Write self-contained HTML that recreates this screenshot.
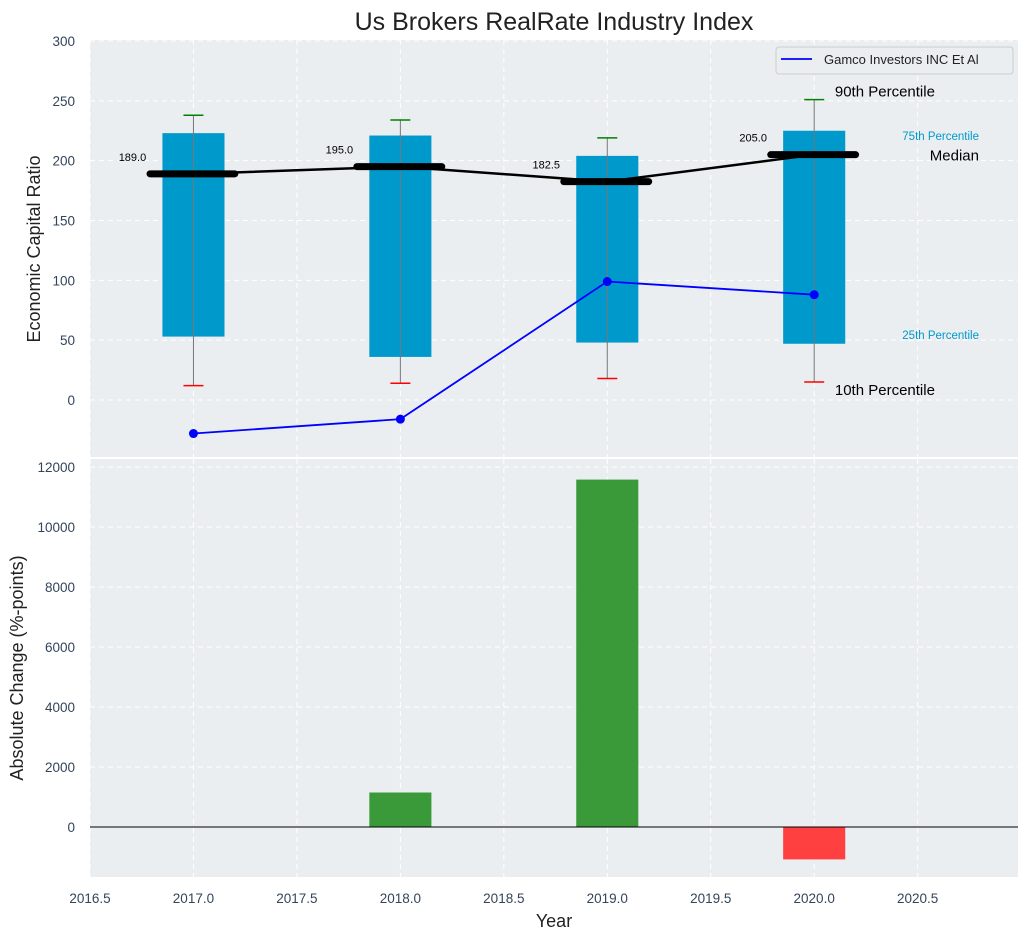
<!DOCTYPE html>
<html><head><meta charset="utf-8"><style>
body{margin:0;background:#fff;width:1029px;height:940px;overflow:hidden;font-family:"Liberation Sans",sans-serif}
svg text{font-family:"Liberation Sans",sans-serif}
</style></head><body>
<svg id="c" width="1029" height="940" xmlns="http://www.w3.org/2000/svg"></svg>
<script>
const years=[2017,2018,2019,2020];
const p10=[12,14,18,15];
const p25=[53,36,48,47];
const medians=[189,195,182.5,205];
const p75=[223,221,204,225];
const p90=[238,234,219,251];
const company=[-28,-16,99,88];
const changes=[0,1150,11580,-1080];
const xTicks=[2016.5,2017,2017.5,2018,2018.5,2019,2019.5,2020,2020.5];
const yTopTicks=[0,50,100,150,200,250,300];
const yBotTicks=[0,2000,4000,6000,8000,10000,12000];

const NS='http://www.w3.org/2000/svg';
const svg=document.getElementById('c');
function el(t,a,p){const e=document.createElementNS(NS,t);for(const k in a)e.setAttribute(k,a[k]);(p||svg).appendChild(e);return e;}
const L=90,R=1018,T1=40,B1=457,T2=459,B2=877;
const TC='#34455a';
const x=v=>L+(v-2016.5)*(R-L)/(2020.985-2016.5);
const y1=v=>400-v*(359/300);
const y2=v=>827-v*(360/12000);

function panel(top,bot,name){
  const r=el('rect',{x:L,y:top,width:R-L,height:bot-top,fill:'#eaeef0'});
  
}
panel(T1,B1,'top-plot-area');panel(T2,B2,'bottom-plot-area');
xTicks.forEach(t=>{
  [[T1,B1],[T2,B2]].forEach(([a,b])=>{const g=el('line',{x1:x(t),x2:x(t),y1:a,y2:b,stroke:'#fff','stroke-dasharray':'5,4','stroke-width':1});});
  const tl=el('text',{x:x(t),y:903,'font-size':13.5,fill:TC,'text-anchor':'middle'});tl.textContent=t.toFixed(1);
  
});
yTopTicks.forEach(t=>{
  const g=el('line',{x1:L,x2:R,y1:y1(t),y2:y1(t),stroke:'#fff','stroke-dasharray':'5,4'});
  const tl=el('text',{x:75,y:y1(t)+5,'font-size':13.5,fill:TC,'text-anchor':'end'});tl.textContent=t;
  
});
yBotTicks.forEach(t=>{
  const g=el('line',{x1:L,x2:R,y1:y2(t),y2:y2(t),stroke:'#fff','stroke-dasharray':'5,4'});
  const tl=el('text',{x:75,y:y2(t)+5,'font-size':13.5,fill:TC,'text-anchor':'end'});tl.textContent=t;
  
});
const bw=0.3;
years.forEach((yr,i)=>{
  const b=el('rect',{x:x(yr-bw/2),y:y1(p75[i]),width:x(yr+bw/2)-x(yr-bw/2),height:y1(p25[i])-y1(p75[i]),fill:'#0099cc'});
  
  const w=el('line',{x1:x(yr),x2:x(yr),y1:y1(p10[i]),y2:y1(p90[i]),stroke:'#777','stroke-width':1});
  
  const c1=el('line',{x1:x(yr)-10,x2:x(yr)+10,y1:y1(p90[i]),y2:y1(p90[i]),stroke:'green','stroke-width':1.5});
  
  const c2=el('line',{x1:x(yr)-10,x2:x(yr)+10,y1:y1(p10[i]),y2:y1(p10[i]),stroke:'red','stroke-width':1.5});
  
});
const ml=el('polyline',{points:years.map((yr,i)=>x(yr)+','+y1(medians[i])).join(' '),fill:'none',stroke:'#000','stroke-width':2.5});

years.forEach((yr,i)=>{
  const m=el('line',{x1:x(yr-0.21),x2:x(yr+0.2),y1:y1(medians[i]),y2:y1(medians[i]),stroke:'#000','stroke-width':7,'stroke-linecap':'round'});
  
  const t=el('text',{x:x(yr)-61,y:y1(medians[i])-13,'font-size':11,fill:'#000','text-anchor':'middle'});t.textContent=medians[i].toFixed(1);
  
});
const cl=el('polyline',{points:years.map((yr,i)=>x(yr)+','+y1(company[i])).join(' '),fill:'none',stroke:'blue','stroke-width':1.8});

years.forEach((yr,i)=>{const d=el('circle',{cx:x(yr),cy:y1(company[i]),r:4.5,fill:'blue'});});
const li=years.length-1;
[['90th Percentile',x(2020.1),y1(p90[li])-3,15,'#000','start'],
 ['75th Percentile',979,y1(p75[li])+9,11.5,'#0099cc','end'],
 ['Median',979,y1(medians[li])+6,15,'#000','end'],
 ['25th Percentile',979,y1(p25[li])-5,11.5,'#0099cc','end'],
 ['10th Percentile',x(2020.1),y1(p10[li])+13,15,'#000','start']].forEach(a=>{
  const t=el('text',{x:a[1],y:a[2],'font-size':a[3],fill:a[4],'text-anchor':a[5]});t.textContent=a[0];
  
});
const lg=el('g',{});
el('rect',{x:776,y:47,width:237,height:27,rx:3,fill:'#eaeef0',stroke:'#ccc'},lg);
el('line',{x1:781,x2:812,y1:59,y2:59,stroke:'blue','stroke-width':1.8},lg);
const lt=el('text',{x:824,y:64,'font-size':13,fill:'#222'},lg);lt.textContent='Gamco Investors INC Et Al';
years.forEach((yr,i)=>{
  const v=changes[i];if(v===0)return;
  const b=el('rect',{x:x(yr-bw/2),y:Math.min(y2(v),y2(0)),width:x(yr+bw/2)-x(yr-bw/2),height:Math.abs(y2(v)-y2(0)),fill:v>=0?'#3a9a3a':'#ff4040'});
  
});
const z=el('line',{x1:L,x2:R,y1:y2(0),y2:y2(0),stroke:'#000','stroke-width':1});
const tt=el('text',{x:554,y:30,'font-size':25,fill:'#222','text-anchor':'middle'});tt.textContent='Us Brokers RealRate Industry Index';
const xt=el('text',{x:554,y:927,'font-size':18,fill:'#222','text-anchor':'middle'});xt.textContent='Year';
const ya=el('text',{x:0,y:0,'font-size':18,fill:'#222','text-anchor':'middle',transform:'translate(40,249) rotate(-90)'});ya.textContent='Economic Capital Ratio';
const yb=el('text',{x:0,y:0,'font-size':18,fill:'#222','text-anchor':'middle',transform:'translate(23,668) rotate(-90)'});yb.textContent='Absolute Change (%-points)';
</script>
</body></html>
